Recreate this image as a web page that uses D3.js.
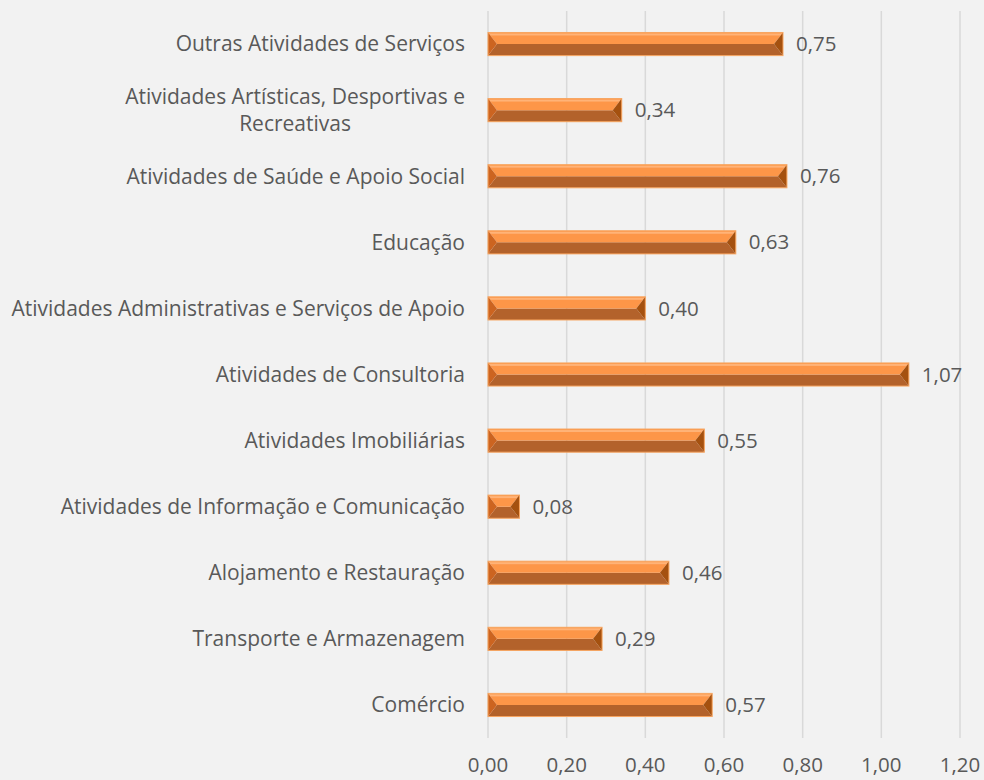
<!DOCTYPE html>
<html>
<head>
<meta charset="utf-8">
<script src="https://cdn.jsdelivr.net/npm/d3@7"></script>
<style>
  html, body { margin: 0; padding: 0; background: #F2F2F2; }
  svg { display: block; }
  text { font-family: "Open Sans", sans-serif; fill: #595959; }
</style>
</head>
<body>
<div id="chart"></div>
<script>
const categories = [
  "Outras Atividades de Serviços",
  "Atividades Artísticas, Desportivas e|Recreativas",
  "Atividades de Saúde e Apoio Social",
  "Educação",
  "Atividades Administrativas e Serviços de Apoio",
  "Atividades de Consultoria",
  "Atividades Imobiliárias",
  "Atividades de Informação e Comunicação",
  "Alojamento e Restauração",
  "Transporte e Armazenagem",
  "Comércio"
];
const values = [0.75, 0.34, 0.76, 0.63, 0.40, 1.07, 0.55, 0.08, 0.46, 0.29, 0.57];
const ticks = [0, 0.2, 0.4, 0.6, 0.8, 1.0, 1.2];

const W = 984, H = 780;
const FS = 20.5, LFS = 21;
const margin = { left: 488, right: 24, top: 11, bottom: 42 };
const fmt = v => v.toFixed(2).replace(".", ",");

const svg = d3.select("#chart").append("svg").attr("width", W).attr("height", H);
svg.append("rect").attr("width", W).attr("height", H).attr("fill", "#F2F2F2");

const x = d3.scaleLinear().domain([0, 1.2]).range([margin.left, W - margin.right]);
const y = d3.scaleBand().domain(categories).range([margin.top, H - margin.bottom]).paddingInner(0.65).paddingOuter(0.325);

// gridlines
svg.append("g").selectAll("line").data(ticks).join("line")
  .attr("x1", d => x(d)).attr("x2", d => x(d))
  .attr("y1", margin.top).attr("y2", H - margin.bottom)
  .attr("stroke", "#D9D9D9").attr("stroke-width", 1.5);

// x tick labels
svg.append("g").selectAll("text").data(ticks).join("text")
  .attr("x", d => x(d)).attr("y", H - 8)
  .attr("text-anchor", "middle").attr("font-size", FS)
  .text(d => fmt(d));

// bars with bevel
const bars = svg.append("g").selectAll("g").data(categories).join("g");
bars.each(function(c, i) {
  const g = d3.select(this);
  const x0 = x(0), x1 = x(values[i]);
  const y0 = y(c), h = y.bandwidth(), y1 = y0 + h, ym = y0 + h / 2;
  const b = Math.min(9, (x1 - x0) / 2);
  g.append("polygon").attr("points", [[x0, y1], [x1, y1], [x1 - b, ym], [x0 + b, ym]].join(" ")).attr("fill", "#B3622B");
  g.append("polygon").attr("points", [[x0, y0], [x1, y0], [x1 - b, ym], [x0 + b, ym]].join(" ")).attr("fill", "#FD9648");
  g.append("rect").attr("x", x0 + 1).attr("y", y0 + 1).attr("width", Math.max(0, x1 - x0 - 2)).attr("height", 2).attr("fill", "#FFB377");
  g.append("polygon").attr("points", [[x0, y0], [x0 + b, ym], [x0, y1]].join(" ")).attr("fill", "#CC6420");
  g.append("polygon").attr("points", [[x1, y0], [x1 - b, ym], [x1, y1]].join(" ")).attr("fill", "#A5510F");
  g.append("rect").attr("x", x0).attr("y", y0).attr("width", x1 - x0).attr("height", h)
    .attr("fill", "none").attr("stroke", "#F7A560").attr("stroke-width", 1);
});

// value labels
svg.append("g").selectAll("text").data(categories).join("text")
  .attr("x", (c, i) => x(values[i]) + 13)
  .attr("y", c => y(c) + y.bandwidth() / 2)
  .attr("dy", "0.35em").attr("font-size", FS)
  .text((c, i) => fmt(values[i]));

// category labels
const labelG = svg.append("g");
categories.forEach(c => {
  const lines = c.split("|");
  const cy = y(c) + y.bandwidth() / 2;
  if (lines.length === 1) {
    labelG.append("text").attr("font-size", LFS).attr("text-anchor", "end")
      .attr("x", 465).attr("y", cy).attr("dy", "0.35em").text(lines[0]);
  } else {
    const lh = 27;
    const probe = labelG.append("text").attr("font-size", LFS).text(lines[0]);
    const w = probe.node().getComputedTextLength();
    probe.remove();
    const cx = 465 - w / 2;
    const t2 = labelG.append("text").attr("font-size", LFS).attr("text-anchor", "middle");
    lines.forEach((ln, k) => {
      t2.append("tspan").attr("x", cx).attr("y", cy + (k - (lines.length - 1) / 2) * lh).attr("dy", "0.35em").text(ln);
    });
  }
});
</script>
</body>
</html>
